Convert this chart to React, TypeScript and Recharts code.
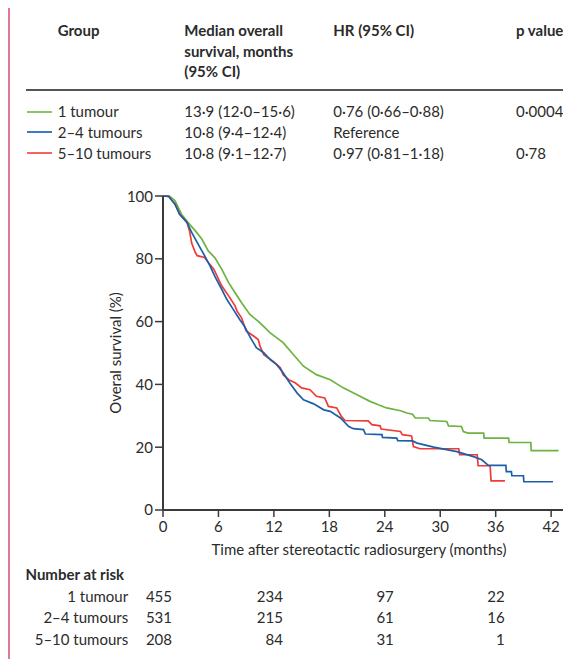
import React from 'react';
import { LineChart, Line, XAxis, YAxis } from 'recharts';

const groups = ['1 tumour', '2–4 tumours', '5–10 tumours'];
const seriesColors = ['#6db33f', '#1c5fa8', '#ee3b36'];
const legendColors = ['#8cc46a', '#3b7cbf', '#f0675f'];
const medians = ['13·9 (12·0–15·6)', '10·8 (9·4–12·4)', '10·8 (9·1–12·7)'];
const hazardRatios = ['0·76 (0·66–0·88)', 'Reference', '0·97 (0·81–1·18)'];
const pValues = ['0·0004', '', '0·78'];

const xTicks = [0, 6, 12, 18, 24, 30, 36, 42];
const yTicks = [0, 20, 40, 60, 80, 100];

const riskMonths = [0, 12, 24, 36];
const riskOneTumour = [455, 234, 97, 22];
const riskTwoToFour = [531, 215, 61, 16];
const riskFiveToTen = [208, 84, 31, 1];

// [months, survival %]
const oneTumour: [number, number][] = [
  [0, 100], [0.7, 100], [1.3, 98.5], [2.0, 94.2], [2.7, 91.6], [3.5, 88.9], [4.2, 86.3],
  [4.9, 82.5], [5.6, 80.4], [6.35, 76.7], [7.1, 72.4], [7.8, 69.2], [8.5, 66.0], [9.4, 62.3],
  [10.5, 59.6], [11.6, 56.4], [13.0, 53.3], [14.1, 49.5], [15.2, 45.8], [16.6, 43.1],
  [18.1, 41.5], [19.5, 38.9], [21.0, 36.7], [22.4, 34.6], [23.3, 33.5], [24.2, 32.5],
  [25.7, 31.6], [26.4, 30.9], [27.0, 30.5], [27.3, 29.3], [28.7, 29.3], [28.9, 28.5],
  [30.7, 28.2], [30.9, 26.8], [32.3, 26.6], [32.5, 25.0], [33.0, 24.5], [34.7, 24.5],
  [34.75, 22.9], [37.4, 22.9], [37.45, 21.5], [39.8, 21.5], [39.85, 18.9], [42.8, 18.9],
];

const twoToFour: [number, number][] = [
  [0, 100], [0.6, 99.9], [1.3, 97.4], [1.8, 94.2], [2.6, 91.6], [3.1, 88.4], [3.8, 84.7],
  [4.5, 81.0], [5.1, 77.7], [5.6, 74.5], [6.35, 70.3], [6.9, 67.1], [7.6, 63.9], [8.3, 60.7],
  [8.8, 58.6], [9.4, 55.2], [10.1, 51.7], [10.9, 50.1], [11.6, 47.9], [12.3, 46.3],
  [13.0, 43.7], [13.7, 40.5], [14.5, 37.3], [15.2, 35.1], [16.3, 33.8], [17.4, 31.9],
  [18.1, 31.4], [19.2, 29.3], [20.1, 26.6], [20.6, 25.9], [21.7, 25.6], [21.9, 24.2],
  [23.7, 24.0], [23.75, 23.1], [25.3, 22.9], [25.4, 22.1], [27.0, 22.0], [27.5, 21.3],
  [29.3, 20.0], [31.8, 18.6], [33.6, 17.0], [34.5, 16.0], [35.2, 14.2], [37.1, 14.2],
  [37.15, 12.2], [37.7, 12.2], [37.75, 10.9], [39.0, 10.9], [39.05, 9.0], [42.2, 9.0],
];

const fiveToTen: [number, number][] = [
  [0, 100], [0.6, 99.9], [1.3, 97.4], [1.8, 94.2], [2.6, 91.6], [2.9, 88.5], [3.1, 85.0],
  [3.5, 82.0], [3.7, 81.0], [4.5, 80.4], [4.9, 78.8], [5.5, 76.7], [6.35, 71.4], [7.1, 68.2],
  [7.8, 65.0], [8.0, 63.4], [8.5, 61.2], [9.0, 57.0], [9.8, 55.4], [10.3, 54.3], [10.5, 52.2],
  [10.9, 49.5], [11.9, 47.4], [12.7, 45.3], [13.0, 43.1], [13.6, 41.5], [14.3, 40.5],
  [15.0, 38.9], [15.9, 38.3], [16.6, 36.2], [17.5, 35.7], [17.9, 33.0], [18.8, 32.5],
  [19.3, 29.8], [19.7, 28.5], [22.2, 28.4], [22.6, 27.2], [23.5, 26.8], [23.6, 25.8],
  [25.7, 25.0], [25.9, 24.0], [26.9, 23.6], [27.1, 20.2], [27.8, 19.5], [32.0, 19.5],
  [32.1, 17.6], [34.0, 17.6], [34.1, 14.1], [35.4, 14.1], [35.5, 9.3], [37.0, 9.3],
];

const FONT = 'Lato, "Open Sans", sans-serif';
const TEXT = '#2b2b2b';

const CHART_W = 563;
const CHART_H = 372;
const CHART_TOP = 180;
const Y_AXIS_W = 155;
const MARGIN = { top: 8, right: 6, bottom: 0, left: 0 };
const X_MAX = 43.5;

// for number-at-risk text placement only (matches axis mapping)
const monthToX = (m: number) =>
  MARGIN.left + Y_AXIS_W + (m / X_MAX) * (CHART_W - MARGIN.left - MARGIN.right - Y_AXIS_W);

const toData = (arr: [number, number][]) => arr.map(([t, s]) => ({ t, s }));

const abs = (left: number, top: number, extra: React.CSSProperties = {}): React.CSSProperties => ({
  position: 'absolute',
  left,
  top,
  whiteSpace: 'nowrap',
  ...extra,
});

export default function App() {
  const lineH = 21;
  const headerTop = 12;
  const legendTop = 93;
  const riskTop = 556;
  const riskRowH = 21.5;
  const riskRows = [riskOneTumour, riskTwoToFour, riskFiveToTen];
  const seriesData = [oneTumour, fiveToTen, twoToFour];
  const seriesIdx = [0, 2, 1];

  return (
    <div
      style={{
        position: 'relative',
        width: 563,
        height: 651,
        fontFamily: FONT,
        fontSize: 15,
        lineHeight: `${lineH}px`,
        color: TEXT,
      }}
    >
      {/* frame */}
      <div style={abs(0, -1.5, { width: 563, height: 1.5, background: '#b3224a' })} />
      <div style={abs(0, -1.5, { width: 2, height: 660, background: '#e07893' })} />

      {/* header */}
      <div style={abs(49.7, headerTop, { fontWeight: 700, lineHeight: '20.7px' })}>Group</div>
      <div style={abs(176.3, headerTop, { fontWeight: 700, lineHeight: '20.7px' })}>
        Median overall
        <br />
        survival, months
        <br />
        (95% CI)
      </div>
      <div style={abs(325.3, headerTop, { fontWeight: 700, lineHeight: '20.7px' })}>HR (95% CI)</div>
      <div style={abs(508, headerTop, { fontWeight: 700, lineHeight: '20.7px' })}>p value</div>
      <div style={abs(18, 81, { width: 540, height: 2, background: '#555555' })} />

      {/* legend table */}
      {groups.map((g, i) => {
        const top = legendTop + i * 20.85;
        return (
          <React.Fragment key={g}>
            <div
              style={abs(18.7, top + 9.6, {
                width: 25.6,
                height: 2,
                background: legendColors[i],
              })}
            />
            <div style={abs(49.7, top)}>{g}</div>
            <div style={abs(176.3, top)}>{medians[i]}</div>
            <div style={abs(325.3, top)}>{hazardRatios[i]}</div>
            <div style={abs(508, top)}>{pValues[i]}</div>
          </React.Fragment>
        );
      })}

      {/* chart */}
      <div style={abs(0, CHART_TOP)}>
        <LineChart width={CHART_W} height={CHART_H} margin={MARGIN}>
          <XAxis
            type="number"
            dataKey="t"
            domain={[0, X_MAX]}
            ticks={xTicks}
            allowDataOverflow
            height={50}
            tickSize={7}
            tickMargin={4}
            axisLine={{ stroke: '#3a3a3a', strokeWidth: 1.8 }}
            tickLine={{ stroke: '#3a3a3a', strokeWidth: 1.5 }}
            tick={{ fill: TEXT, fontSize: 15, fontFamily: FONT }}
          />
          <YAxis
            type="number"
            domain={[0, 100]}
            ticks={yTicks}
            width={Y_AXIS_W}
            tickSize={8}
            tickMargin={2}
            axisLine={{ stroke: '#3a3a3a', strokeWidth: 2 }}
            tickLine={{ stroke: '#3a3a3a', strokeWidth: 1.5 }}
            tick={{ fill: TEXT, fontSize: 15, fontFamily: FONT }}
          />
          {seriesData.map((arr, k) => (
            <Line
              key={k}
              data={toData(arr)}
              dataKey="s"
              type="linear"
              stroke={seriesColors[seriesIdx[k]]}
              strokeWidth={1.7}
              dot={false}
              activeDot={false}
              isAnimationActive={false}
            />
          ))}
        </LineChart>
      </div>

      {/* axis titles */}
      <div
        style={abs(107, 345, {
          transform: 'translate(-50%, -50%) rotate(-90deg)',
        })}
      >
        Overal survival (%)
      </div>
      <div style={abs(351, 530.7, { transform: 'translateX(-50%)' })}>
        Time after stereotactic radiosurgery (months)
      </div>

      {/* number at risk */}
      <div style={abs(17.5, riskTop, { fontWeight: 700 })}>Number at risk</div>
      {groups.map((g, i) => (
        <React.Fragment key={g}>
          <div
            style={abs(0, riskTop + (i + 1) * riskRowH, {
              width: 120.2,
              textAlign: 'right',
            })}
          >
            {g}
          </div>
          {riskMonths.map((m, j) => (
            <div
              key={m}
              style={abs(monthToX(m) + 9 - 60, riskTop + (i + 1) * riskRowH, {
                width: 60,
                textAlign: 'right',
              })}
            >
              {riskRows[i][j]}
            </div>
          ))}
        </React.Fragment>
      ))}
    </div>
  );
}
